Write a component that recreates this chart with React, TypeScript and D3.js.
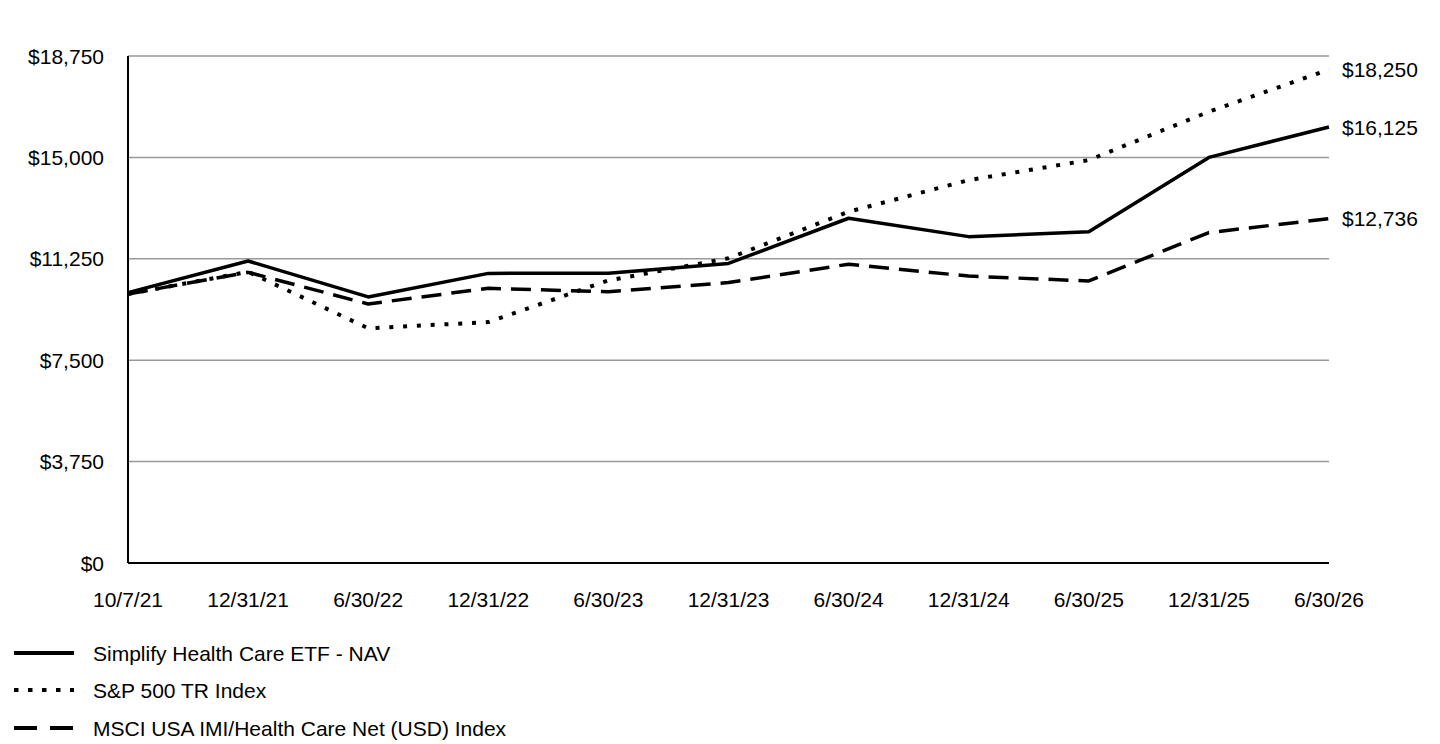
import React, { useEffect, useRef } from "react";
import * as d3 from "d3";

const categories = ["10/7/21", "12/31/21", "6/30/22", "12/31/22", "6/30/23", "12/31/23", "6/30/24", "12/31/24", "6/30/25", "12/31/25", "6/30/26"];
const navValues = [10000, 11170, 9840, 10710, 10720, 11080, 12750, 12070, 12250, 15000, 16125];
const spValues = [9950, 10770, 8680, 8910, 10450, 11270, 12990, 14160, 14900, 16690, 18250];
const msciValues = [9950, 10750, 9580, 10160, 10030, 10370, 11050, 10610, 10430, 12220, 12736];
const yTicks = [0, 3750, 7500, 11250, 15000, 18750];
const seriesNames = ["Simplify Health Care ETF - NAV", "S&P 500 TR Index", "MSCI USA IMI/Health Care Net (USD) Index"];

const FONT = "'Liberation Sans', Arial, sans-serif";
const FS = 21;

export default function App() {
  const ref = useRef<SVGSVGElement | null>(null);

  useEffect(() => {
    const svg = d3.select(ref.current);
    svg.selectAll("*").remove();

    const left = 128, right = 1329, top = 56, bottom = 563;
    const x = d3.scalePoint<string>().domain(categories).range([left, right]);
    const y = d3.scaleLinear().domain([0, 18750]).range([bottom, top]);
    const fmt = (v: number) => "$" + d3.format(",")(v);

    // gridlines
    svg.append("g")
      .selectAll("line")
      .data(yTicks.filter((t) => t > 0))
      .enter()
      .append("line")
      .attr("x1", left)
      .attr("x2", right)
      .attr("y1", (d) => y(d))
      .attr("y2", (d) => y(d))
      .attr("stroke", "#999999")
      .attr("stroke-width", 1.5);

    // y tick labels
    svg.append("g")
      .selectAll("text")
      .data(yTicks)
      .enter()
      .append("text")
      .attr("x", 104)
      .attr("y", (d) => y(d))
      .attr("dy", "0.36em")
      .attr("text-anchor", "end")
      .attr("font-family", FONT)
      .attr("font-size", FS)
      .attr("fill", "#000")
      .text((d) => fmt(d));

    // x tick labels
    svg.append("g")
      .selectAll("text")
      .data(categories)
      .enter()
      .append("text")
      .attr("x", (d) => x(d) as number)
      .attr("y", 607)
      .attr("text-anchor", "middle")
      .attr("font-family", FONT)
      .attr("font-size", FS)
      .attr("fill", "#000")
      .text((d) => d);

    // axes
    svg.append("line")
      .attr("x1", left).attr("x2", left).attr("y1", top).attr("y2", bottom)
      .attr("stroke", "#000").attr("stroke-width", 2);
    svg.append("line")
      .attr("x1", left).attr("x2", right).attr("y1", bottom).attr("y2", bottom)
      .attr("stroke", "#000").attr("stroke-width", 2);

    const line = d3.line<number>()
      .x((_, i) => x(categories[i]) as number)
      .y((d) => y(d));

    const series = [
      { name: seriesNames[0], values: navValues, dash: null as string | null, ldash: null as string | null },
      { name: seriesNames[1], values: spValues, dash: "4,9.8", ldash: "4.5,9.5" },
      { name: seriesNames[2], values: msciValues, dash: "20,10", ldash: "23,13" },
    ];

    series.forEach((s) => {
      const p = svg.append("path")
        .attr("d", line(s.values) as string)
        .attr("fill", "none")
        .attr("stroke", "#000")
        .attr("stroke-width", s.dash && s.dash.startsWith("4") ? 4 : 3.5)
        .attr("stroke-linejoin", "round");
      if (s.dash) p.attr("stroke-dasharray", s.dash);

      const last = s.values[s.values.length - 1];
      svg.append("text")
        .attr("x", 1342)
        .attr("y", y(last))
        .attr("dy", "0.36em")
        .attr("font-family", FONT)
        .attr("font-size", FS)
        .attr("fill", "#000")
        .text(fmt(last));
    });

    // legend
    const legendY = [653, 690, 728];
    series.forEach((s, i) => {
      const l = svg.append("line")
        .attr("x1", 14).attr("x2", 74)
        .attr("y1", legendY[i]).attr("y2", legendY[i])
        .attr("stroke", "#000").attr("stroke-width", 4);
      if (s.ldash) l.attr("stroke-dasharray", s.ldash);
      svg.append("text")
        .attr("x", 93)
        .attr("y", legendY[i])
        .attr("dy", "0.36em")
        .attr("font-family", FONT)
        .attr("font-size", FS)
        .attr("fill", "#000")
        .text(s.name);
    });
  }, []);

  return (
    <svg
      ref={ref}
      width={1440}
      height={744}
      style={{ position: "absolute", left: 0, top: 0, background: "#fff" }}
    />
  );
}
